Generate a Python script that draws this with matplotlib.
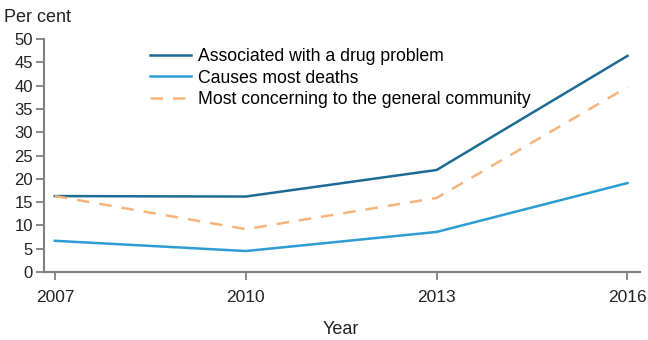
import matplotlib
matplotlib.use("Agg")
import matplotlib.pyplot as plt

years = [2007, 2010, 2013, 2016]
associated = [16.3, 16.2, 21.9, 46.4]
causes_deaths = [6.7, 4.5, 8.6, 19.1]
most_concerning = [16.3, 9.2, 15.9, 39.7]
labels = ["Associated with a drug problem", "Causes most deaths",
          "Most concerning to the general community"]
yticks = list(range(0, 51, 5))

plt.rcParams["font.family"] = ["Liberation Sans", "DejaVu Sans"]

fig = plt.figure(figsize=(6.48, 3.40), dpi=100)
ax = fig.add_axes([0.068, 0.2, 0.92, 0.685])

ax.plot(years, associated, color="#1c6b93", lw=1.8, label=labels[0])
ax.plot(years, causes_deaths, color="#2b9dd3", lw=1.8, label=labels[1])
ax.plot(years, most_concerning, color="#f5b47c", lw=1.8, ls=(0, (5, 4)),
        label=labels[2])

ax.set_xlim(2006.83, 2016.2)
ax.set_ylim(0, 50)
ax.set_xticks(years)
ax.set_yticks(yticks)

grey = "#808080"
text_col = "#222222"
for side in ("top", "right"):
    ax.spines[side].set_visible(False)
for side in ("left", "bottom"):
    ax.spines[side].set_color(grey)
    ax.spines[side].set_linewidth(1.5)
ax.tick_params(axis="both", colors=grey, width=1.3, length=6,
               labelcolor=text_col)
ax.tick_params(axis="x", pad=7, labelsize=12.5)
ax.tick_params(axis="y", pad=2, labelsize=12)

fig.text(4 / 648, 1 - 18 / 340, "Per cent", fontsize=13, color=text_col,
         va="center", ha="left")
fig.text(341 / 648, 1 - 330 / 340, "Year", fontsize=13, color=text_col,
         va="center", ha="center")

ax.legend(loc="upper left", bbox_to_anchor=(150 / 648, 1 - 48 / 340),
          bbox_transform=fig.transFigure, frameon=False, fontsize=12.7,
          handlelength=2.3, handletextpad=0.4, labelspacing=0.26,
          borderpad=0, borderaxespad=0)

fig.savefig("out.png", dpi=100)
